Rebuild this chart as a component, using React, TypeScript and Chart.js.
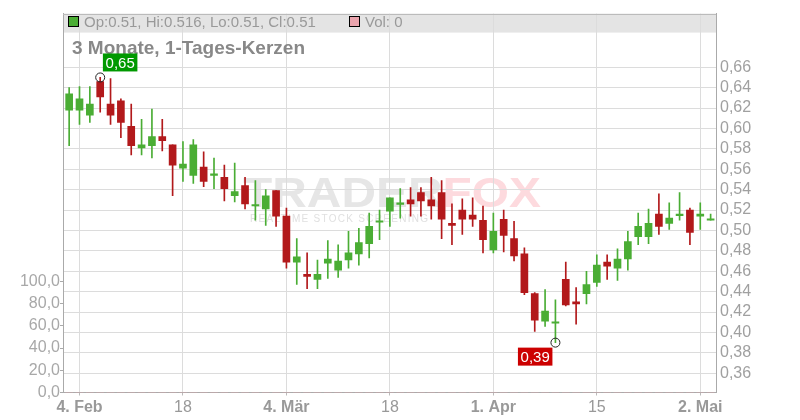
import React, { useEffect, useRef } from "react";
import { Chart, registerables } from "chart.js";

Chart.register(...registerables);

// Trading-day index of the first candle (1 Feb = -1, 4 Feb = 0)
const firstIdx = -1;

const opens = [
  0.618, 0.618, 0.613, 0.646, 0.624, 0.627, 0.602, 0.581, 0.583, 0.592,
  0.584, 0.561, 0.554, 0.562, 0.554, 0.552, 0.534, 0.544, 0.524, 0.521,
  0.539, 0.514, 0.469, 0.457, 0.452, 0.468, 0.461, 0.471, 0.477, 0.487,
  0.508, 0.519, 0.5255, 0.530, 0.537, 0.530, 0.537, 0.507, 0.520, 0.515,
  0.510, 0.481, 0.511, 0.492, 0.477, 0.438, 0.411, 0.409, 0.452, 0.430,
  0.438, 0.449, 0.469, 0.463, 0.472, 0.494, 0.494, 0.516, 0.507, 0.5145,
  0.520, 0.514, 0.51,
];
const highs = [
  0.640, 0.641, 0.641, 0.650, 0.649, 0.629, 0.624, 0.609, 0.619, 0.609,
  0.584, 0.587, 0.589, 0.577, 0.571, 0.564, 0.566, 0.552, 0.549, 0.540,
  0.539, 0.522, 0.492, 0.478, 0.471, 0.490, 0.486, 0.499, 0.502, 0.517,
  0.520, 0.532, 0.541, 0.542, 0.542, 0.552, 0.549, 0.526, 0.531, 0.532,
  0.524, 0.517, 0.520, 0.509, 0.483, 0.439, 0.442, 0.432, 0.469, 0.444,
  0.460, 0.476, 0.476, 0.482, 0.499, 0.517, 0.521, 0.536, 0.527, 0.537,
  0.522, 0.527, 0.516,
];
const lows = [
  0.583, 0.604, 0.606, 0.616, 0.604, 0.591, 0.574, 0.574, 0.571, 0.578,
  0.534, 0.548, 0.546, 0.543, 0.541, 0.529, 0.528, 0.521, 0.510, 0.505,
  0.504, 0.463, 0.447, 0.443, 0.443, 0.453, 0.454, 0.463, 0.466, 0.473,
  0.491, 0.504, 0.512, 0.514, 0.514, 0.511, 0.492, 0.486, 0.496, 0.504,
  0.478, 0.478, 0.479, 0.470, 0.437, 0.401, 0.406, 0.390, 0.426, 0.408,
  0.428, 0.445, 0.452, 0.451, 0.461, 0.486, 0.487, 0.496, 0.501, 0.510,
  0.486, 0.501, 0.51,
];
const closes = [
  0.634, 0.629, 0.624, 0.631, 0.613, 0.606, 0.583, 0.584, 0.592, 0.588,
  0.564, 0.565, 0.584, 0.548, 0.554, 0.541, 0.538, 0.526, 0.524, 0.534,
  0.514, 0.469, 0.474, 0.455, 0.457, 0.472, 0.470, 0.478, 0.488, 0.504,
  0.508, 0.532, 0.527, 0.526, 0.529, 0.524, 0.511, 0.505, 0.511, 0.511,
  0.491, 0.499, 0.495, 0.475, 0.439, 0.412, 0.421, 0.409, 0.427, 0.428,
  0.447, 0.466, 0.465, 0.472, 0.489, 0.504, 0.507, 0.504, 0.512, 0.515,
  0.498, 0.516, 0.51,
];
const volumes = new Array(63).fill(0);

const xTickIdx = [0, 10, 20, 30, 40, 50, 60];
const xTickLabels = ["4. Feb", "18", "4. Mär", "18", "1. Apr", "15", "2. Mai"];
const xTickBold = [true, false, true, false, true, false, true];
const priceTicks = [0.36, 0.38, 0.4, 0.42, 0.44, 0.46, 0.48, 0.5, 0.52, 0.54, 0.56, 0.58, 0.6, 0.62, 0.64, 0.66];
const volTicks = [0, 20, 40, 60, 80, 100];

const titleText = "3 Monate, 1-Tages-Kerzen";

const GREEN = "#4aad34";
const RED = "#b2191b";
const FONT = '"Liberation Sans", Arial, Helvetica, sans-serif';

const decor = {
  id: "decor",
  beforeDraw(chart: any) {
    const { ctx, chartArea: a } = chart;
    ctx.save();
    // legend band
    ctx.fillStyle = "#e4e4e4";
    ctx.fillRect(a.left, a.top, a.right - a.left, 19);
    // watermark
    ctx.save();
    ctx.font = `bold 42px ${FONT}`;
    ctx.textBaseline = "alphabetic";
    ctx.translate(243, 207);
    ctx.scale(1.14, 1);
    ctx.fillStyle = "#e6e6e6";
    ctx.fillText("TRADER", 0, 0);
    const w = ctx.measureText("TRADER").width;
    ctx.fillStyle = "#fddade";
    ctx.fillText("FOX", w, 0);
    ctx.restore();
    ctx.save();
    ctx.font = `10px ${FONT}`;
    ctx.fillStyle = "#e0e0e0";
    const sub = "REALTIME STOCK SCREENING";
    const nat = ctx.measureText(sub).width;
    (ctx as any).letterSpacing = ((178 - nat) / 23).toFixed(2) + "px";
    ctx.fillText(sub, 250, 222);
    ctx.restore();
    ctx.restore();
  },
  afterDraw(chart: any) {
    const { ctx, chartArea: a } = chart;
    ctx.save();
    // top frame line
    ctx.strokeStyle = "#bbbbbb";
    ctx.lineWidth = 1;
    ctx.beginPath();
    ctx.moveTo(a.left, Math.round(a.top) + 0.5);
    ctx.lineTo(a.right, Math.round(a.top) + 0.5);
    ctx.stroke();

    // legend content
    const n = opens.length - 1;
    const lastGreen = closes[n] >= opens[n];
    ctx.fillStyle = lastGreen ? GREEN : RED;
    ctx.fillRect(68.5, 16.5, 10, 10);
    ctx.strokeStyle = "#000";
    ctx.strokeRect(68.5, 16.5, 10, 10);
    ctx.font = `15px ${FONT}`;
    ctx.fillStyle = "#999999";
    ctx.textBaseline = "alphabetic";
    ctx.textAlign = "left";
    ctx.fillText(`Op:${opens[n]}, Hi:${highs[n]}, Lo:${lows[n]}, Cl:${closes[n]}`, 84, 26.5);
    ctx.fillStyle = "#eaa4ad";
    ctx.fillRect(349.5, 16.5, 10, 10);
    ctx.strokeRect(349.5, 16.5, 10, 10);
    ctx.fillStyle = "#999999";
    ctx.fillText(`Vol: ${volumes[n]}`, 365, 26.5);

    // title
    ctx.font = `bold 19px ${FONT}`;
    ctx.fillStyle = "#888888";
    ctx.fillText(titleText, 72, 54);

    // high / low markers
    const xs = chart.scales.x;
    const ys = chart.scales.y;
    let hi = 0;
    let lo = 0;
    highs.forEach((v, i) => { if (v > highs[hi]) hi = i; });
    lows.forEach((v, i) => { if (v < lows[lo]) lo = i; });
    const drawMarker = (idx: number, val: number, up: boolean) => {
      const px = xs.getPixelForValue(idx + firstIdx);
      const py = ys.getPixelForValue(val);
      ctx.beginPath();
      ctx.arc(px, py, 4.5, 0, Math.PI * 2);
      ctx.strokeStyle = "#222";
      ctx.lineWidth = 1;
      ctx.stroke();
      const bw = 34.5;
      const bh = 18;
      const bx = up ? px + 2.7 : px - 3 - bw;
      const by = up ? py - 6 - bh : py + 5;
      ctx.fillStyle = up ? "#009900" : "#cc0000";
      ctx.fillRect(bx, by, bw, bh);
      ctx.fillStyle = "#ffffff";
      ctx.font = `15px ${FONT}`;
      ctx.textAlign = "center";
      ctx.textBaseline = "middle";
      ctx.fillText(val.toFixed(2).replace(".", ","), bx + bw / 2, by + bh / 2 + 1);
    };
    drawMarker(hi, highs[hi], true);
    drawMarker(lo, lows[lo], false);
    ctx.restore();
  },
};

export default function App() {
  const ref = useRef<HTMLCanvasElement | null>(null);
  useEffect(() => {
    if (!ref.current) return;
    const xs = opens.map((_, i) => i + firstIdx);
    const bodyData = xs.map((x, i) => ({ x, y: [Math.min(opens[i], closes[i]), Math.max(opens[i], closes[i])] }));
    const wickData = xs.map((x, i) => ({ x, y: [lows[i], highs[i]] }));
    const colors = xs.map((_, i) => (closes[i] >= opens[i] ? GREEN : RED));
    const volData = xs.map((x, i) => ({ x, y: volumes[i] }));

    const chart = new Chart(ref.current, {
      type: "bar",
      data: {
        datasets: [
          {
            label: "body",
            data: bodyData as any,
            backgroundColor: colors,
            borderWidth: 0,
            grouped: false,
            barThickness: 7,
            maxBarThickness: 7,
            minBarLength: 1.5,
            yAxisID: "y",
            order: 0,
          } as any,
          {
            label: "wick",
            data: wickData as any,
            backgroundColor: colors,
            borderWidth: 0,
            grouped: false,
            barThickness: 1,
            maxBarThickness: 1,
            yAxisID: "y",
            order: 1,
          } as any,
          {
            label: "vol",
            data: volData as any,
            backgroundColor: "#eaa4ad",
            borderWidth: 0,
            grouped: false,
            barThickness: 7,
            maxBarThickness: 7,
            yAxisID: "yv",
            order: 2,
          } as any,
        ],
      },
      options: {
        animation: false,
        responsive: false,
        maintainAspectRatio: false,
        layout: { padding: { top: 11, left: 0, right: 0, bottom: 0 } },
        plugins: { legend: { display: false }, tooltip: { enabled: false } },
        scales: {
          x: {
            type: "linear",
            min: -1.595,
            max: 61.52,
            offset: false,
            afterBuildTicks: (s: any) => { s.ticks = xTickIdx.map((v) => ({ value: v })); },
            afterFit: (s: any) => { s.height = 27.5; },
            ticks: {
              autoSkip: false,
              maxRotation: 0,
              padding: 2,
              color: "#999999",
              callback: (_v: any, i: number) => xTickLabels[i],
              font: (c: any) => ({ family: FONT, size: 16, weight: xTickBold[c.index] ? "bold" : "normal" }),
            },
            grid: { offset: false, color: "#dcdcdc", tickLength: 3, tickColor: "#bbbbbb" },
            border: { color: "#aaaaaa" },
          } as any,
          y: {
            position: "right",
            min: 0.3411,
            max: 0.7126,
            afterBuildTicks: (s: any) => { s.ticks = priceTicks.map((v) => ({ value: v })); },
            afterFit: (s: any) => { s.width = 84; },
            ticks: {
              padding: 4,
              color: "#a0a0a0",
              font: { family: FONT, size: 16 },
              callback: (v: any) => Number(v).toFixed(2).replace(".", ","),
            },
            grid: { color: "#dcdcdc", drawTicks: false },
            border: { color: "#aaaaaa" },
          } as any,
          yv: {
            position: "left",
            min: 0,
            max: 341,
            afterBuildTicks: (s: any) => { s.ticks = volTicks.map((v) => ({ value: v })); },
            afterFit: (s: any) => { s.width = 63; },
            ticks: {
              padding: 0,
              color: "#a8a8a8",
              font: { family: FONT, size: 16 },
              callback: (v: any) => Number(v).toFixed(1).replace(".", ","),
            },
            grid: { drawOnChartArea: false, tickLength: 3, tickColor: "#aaaaaa" },
            border: { color: "#aaaaaa" },
          } as any,
        },
      },
      plugins: [decor],
    });
    return () => chart.destroy();
  }, []);

  return (
    <div style={{ position: "fixed", left: 0, top: 0, width: 800, height: 420, background: "#fff" }}>
      <canvas ref={ref} width={800} height={420} style={{ display: "block" }} />
    </div>
  );
}
